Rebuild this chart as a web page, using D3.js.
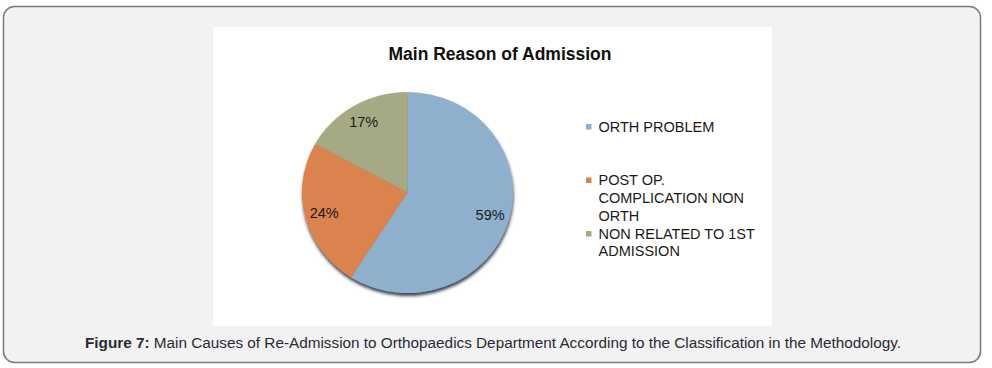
<!DOCTYPE html>
<html>
<head>
<meta charset="utf-8">
<script src="https://cdn.jsdelivr.net/npm/d3@7"></script>
<style>
  html, body { margin: 0; padding: 0; background: #ffffff; }
  svg { display: block; }
</style>
</head>
<body>
<svg id="chart" width="992" height="368"></svg>
<script>
// ---- data ----
const title = "Main Reason of Admission";
const categories = ["ORTH PROBLEM", "POST OP. COMPLICATION NON ORTH", "NON RELATED TO 1ST ADMISSION"];
const legendLines = [["ORTH PROBLEM"], ["POST OP.", "COMPLICATION NON", "ORTH"], ["NON RELATED TO 1ST", "ADMISSION"]];
const values = [59, 24, 17];
const valueLabels = ["59%", "24%", "17%"];
const colors = ["#8fb0cc", "#db834f", "#a5aa85"];
const captionBold = "Figure 7:";
const captionText = " Main Causes of Re-Admission to Orthopaedics Department According to the Classification in the Methodology.";

const svg = d3.select("#chart");
const font = "'Liberation Sans', Arial, Helvetica, sans-serif";

// outer panel
svg.append("rect")
  .attr("x", 3.5).attr("y", 6.5).attr("width", 977).attr("height", 356)
  .attr("rx", 11).attr("ry", 11)
  .attr("fill", "#f2f2f2").attr("stroke", "#7a7a7a").attr("stroke-width", 1.5);

// white chart area
svg.append("rect")
  .attr("x", 213).attr("y", 27).attr("width", 559).attr("height", 299)
  .attr("fill", "#ffffff");

// title
svg.append("text")
  .attr("x", 500).attr("y", 59.5)
  .attr("text-anchor", "middle")
  .attr("font-family", font).attr("font-weight", "bold").attr("font-size", "17.5px")
  .attr("fill", "#111")
  .text(title);

// shadow filter
const defs = svg.append("defs");
const f = defs.append("filter").attr("id", "shadow")
  .attr("x", "-20%").attr("y", "-20%").attr("width", "140%").attr("height", "140%");
f.append("feDropShadow").attr("dx", 0.5).attr("dy", 3).attr("stdDeviation", 1.4)
  .attr("flood-color", "#1f2c3a").attr("flood-opacity", 0.85);

// pie
const cx = 407.5, cy = 192.5, r = 105.5, yScale = 0.953;
const pie = d3.pie().sort(null).value(d => d)(values);
const arc = d3.arc().innerRadius(0).outerRadius(r);
const labelArc = d3.arc().innerRadius(86).outerRadius(86);

const g = svg.append("g").attr("transform", `translate(${cx},${cy})`);
const pg = g.append("g").attr("filter", "url(#shadow)");
pg.append("g").attr("transform", `scale(1,${yScale})`)
  .selectAll("path").data(pie).join("path")
  .attr("d", arc)
  .attr("fill", (d, i) => colors[i]);

g.selectAll("text.lbl").data(pie).join("text")
  .attr("class", "lbl")
  .attr("x", d => labelArc.centroid(d)[0])
  .attr("y", d => labelArc.centroid(d)[1] * yScale)
  .attr("text-anchor", "middle")
  .attr("dominant-baseline", "central")
  .attr("font-family", font).attr("font-size", "14.5px")
  .attr("fill", "#1a1a1a")
  .text((d, i) => valueLabels[i]);

// legend
const legX = 586, textX = 598.5, firstBase = 131.5, itemStep = 53.5, lineH = 17.8;
const leg = svg.append("g");
categories.forEach((c, i) => {
  const base = firstBase + i * itemStep;
  leg.append("rect")
    .attr("x", legX).attr("y", base - 7.5).attr("width", 5.5).attr("height", 5.5)
    .attr("fill", colors[i]);
  const t = leg.append("text")
    .attr("font-family", font).attr("font-size", "14.5px").attr("fill", "#1a1a1a");
  legendLines[i].forEach((ln, j) => {
    t.append("tspan").attr("x", textX).attr("y", base + j * lineH).text(ln);
  });
});

// caption
const cap = svg.append("text")
  .attr("x", 85).attr("y", 347.5)
  .attr("font-family", font).attr("font-size", "15.3px").attr("fill", "#2a2a35");
cap.append("tspan").attr("font-weight", "bold").text(captionBold);
cap.append("tspan").text(captionText);
</script>
</body>
</html>
